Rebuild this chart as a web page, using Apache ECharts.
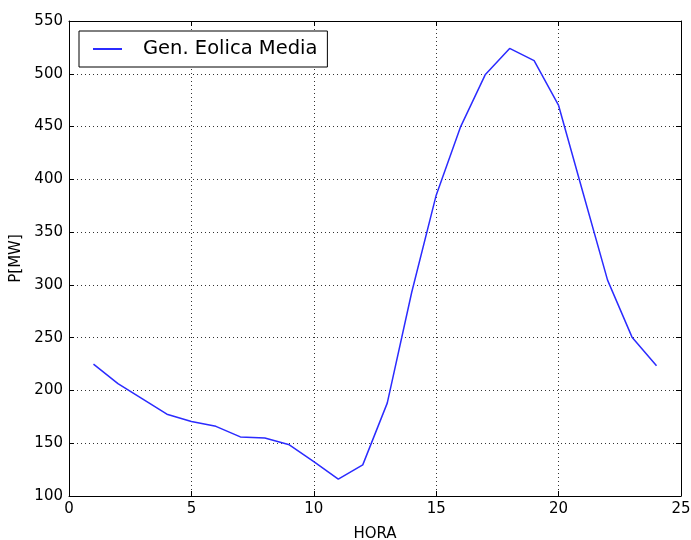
<!DOCTYPE html>
<html>
<head>
<meta charset="utf-8">
<script src="https://cdn.jsdelivr.net/npm/echarts@6/dist/echarts.min.js"></script>
<style>
  html, body { margin: 0; padding: 0; background: #fff; }
  #chart { width: 691px; height: 540px; }
</style>
</head>
<body>
<div id="chart"></div>
<script>
// Mean wind generation per hour of the day
const hours = [1, 2, 3, 4, 5, 6, 7, 8, 9, 10, 11, 12, 13, 14, 15, 16, 17, 18, 19, 20, 21, 22, 23, 24];
const genEolicaMedia = [225, 206.5, 192, 177.5, 170.5, 166, 156, 155, 148.5, 132.5, 116, 129.5,
                        188, 293, 385, 450, 499, 524, 512.5, 470, 387, 304.5, 250.5, 223.5];
const seriesName = 'Gen. Eolica Media';
const xTicks = { min: 0, max: 25, interval: 5 };
const yTicks = { min: 100, max: 550, interval: 50 };

const FONT = 'DejaVu Sans';
const LINE_COLOR = '#2b2bff';
const points = hours.map((h, i) => [h, genEolicaMedia[i]]);

const frameLine = { show: true, onZero: false, lineStyle: { color: '#000', width: 1 } };
const innerTick = { show: true, inside: true, length: 5, lineStyle: { color: '#000', width: 1 } };
const dotted = { show: true, lineStyle: { color: '#000', width: 1, type: [1, 3], opacity: 0.8 } };

const chart = echarts.init(document.getElementById('chart'), null, { renderer: 'canvas' });
chart.setOption({
  animation: false,
  backgroundColor: '#fff',
  textStyle: { fontFamily: FONT },
  grid: { left: 69, right: 10, top: 21, bottom: 44, containLabel: false, outerBoundsMode: 'none' },
  legend: {
    left: 79, top: 31,
    data: [seriesName],
    icon: 'rect',
    itemWidth: 29, itemHeight: 2,
    padding: [8, 10, 8, 14],
    borderColor: '#000', borderWidth: 1, borderRadius: 0,
    backgroundColor: '#fff',
    textStyle: { fontFamily: FONT, fontSize: 19.5, color: '#000', padding: [0, 0, 0, 16] }
  },
  xAxis: [
    {
      type: 'value', position: 'bottom', ...xTicks,
      name: 'HORA', nameLocation: 'middle', nameGap: 31,
      nameTextStyle: { fontFamily: FONT, fontSize: 15, color: '#000' },
      axisLine: frameLine, axisTick: innerTick,
      axisLabel: { fontFamily: FONT, fontSize: 15, color: '#000', margin: 6 },
      splitLine: dotted
    },
    {
      type: 'value', position: 'top', ...xTicks,
      axisLine: frameLine, axisTick: innerTick,
      axisLabel: { show: false }, splitLine: { show: false }
    }
  ],
  yAxis: [
    {
      type: 'value', position: 'left', ...yTicks,
      name: 'P[MW]', nameLocation: 'middle', nameGap: 44, nameRotate: 90,
      nameTextStyle: { fontFamily: FONT, fontSize: 15, color: '#000' },
      axisLine: frameLine, axisTick: innerTick,
      axisLabel: { fontFamily: FONT, fontSize: 15, color: '#000', margin: 6 },
      splitLine: dotted
    },
    {
      type: 'value', position: 'right', ...yTicks,
      axisLine: frameLine, axisTick: innerTick,
      axisLabel: { show: false }, splitLine: { show: false }
    }
  ],
  series: [{
    name: seriesName,
    type: 'line',
    xAxisIndex: 0, yAxisIndex: 0,
    data: points,
    symbol: 'none',
    color: LINE_COLOR,
    lineStyle: { color: LINE_COLOR, width: 1.5 }
  }]
});
</script>
</body>
</html>
